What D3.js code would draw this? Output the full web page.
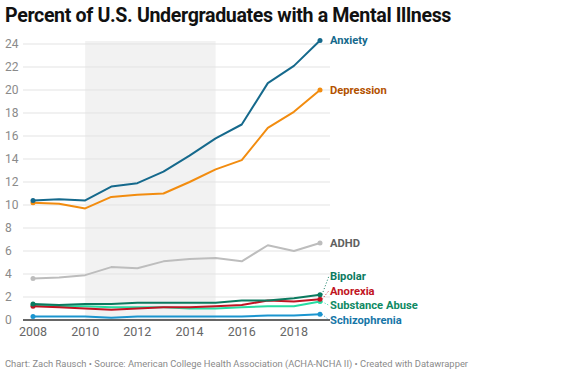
<!DOCTYPE html>
<html>
<head>
<meta charset="utf-8">
<script src="https://cdn.jsdelivr.net/npm/d3@7"></script>
<style>
  body { margin: 0; background: #fff; font-family: Roboto, sans-serif; }
  svg text { font-family: Roboto, sans-serif; }
</style>
</head>
<body>
<svg id="chart"></svg>
<script>
// data
const years = [2008, 2009, 2010, 2011, 2012, 2013, 2014, 2015, 2016, 2017, 2018, 2019];
const anxiety = [10.4, 10.5, 10.4, 11.6, 11.9, 12.9, 14.3, 15.8, 17.0, 20.6, 22.1, 24.3];
const depression = [10.2, 10.1, 9.7, 10.7, 10.9, 11.0, 12.0, 13.1, 13.9, 16.7, 18.1, 20.0];
const adhd = [3.6, 3.7, 3.9, 4.6, 4.5, 5.1, 5.3, 5.4, 5.1, 6.5, 6.0, 6.7];
const bipolar = [1.4, 1.3, 1.4, 1.4, 1.5, 1.5, 1.5, 1.5, 1.7, 1.7, 1.9, 2.2];
const anorexia = [1.2, 1.1, 1.0, 0.9, 1.0, 1.1, 1.1, 1.2, 1.3, 1.7, 1.6, 1.8];
const substanceAbuse = [1.3, 1.2, 1.2, 1.1, 1.1, 1.1, 1.0, 1.0, 1.1, 1.2, 1.2, 1.6];
const schizophrenia = [0.3, 0.3, 0.3, 0.2, 0.3, 0.3, 0.3, 0.3, 0.3, 0.4, 0.4, 0.5];
const yTicks = [0, 2, 4, 6, 8, 10, 12, 14, 16, 18, 20, 22, 24];
const xTicks = [2008, 2010, 2012, 2014, 2016, 2018];
const shadedRange = [2010, 2015];

const series = [
    {name: 'Anxiety', values: anxiety, line: '#15698c', label: '#15698c'},
    {name: 'Depression', values: depression, line: '#f28c0f', label: '#b35200'},
    {name: 'ADHD', values: adhd, line: '#bdbdbd', label: '#606060'},
    {name: 'Bipolar', values: bipolar, line: '#0b7a5f', label: '#0b7a5f', group: true},
    {name: 'Anorexia', values: anorexia, line: '#c11423', label: '#c11423', group: true},
    {name: 'Substance Abuse', values: substanceAbuse, line: '#27dca2', label: '#0f8a63', group: true},
    {name: 'Schizophrenia', values: schizophrenia, line: '#1b95cf', label: '#1676a7', group: true}
];

const width = 567, height = 373;
const svg = d3.select('#chart').attr('width', width).attr('height', height);

const x = d3.scaleLinear().domain([2008, 2019]).range([33, 320]);
const y = d3.scaleLinear().domain([0, 24]).range([320, 44]);
const gridLeft = 23, gridRight = 330;

// title
svg.append('text')
    .attr('x', 5).attr('y', 22)
    .attr('font-size', 19.6).attr('font-weight', 700)
    .attr('fill', '#111')
    .attr('letter-spacing', -0.35)
    .text('Percent of U.S. Undergraduates with a Mental Illness');

// shaded period
svg.append('rect')
    .attr('x', x(shadedRange[0]))
    .attr('y', 41)
    .attr('width', x(shadedRange[1]) - x(shadedRange[0]))
    .attr('height', y(0) - 41)
    .attr('fill', '#f2f2f2');

// gridlines
svg.append('g').selectAll('line')
    .data(yTicks.filter(d => d > 0))
    .join('line')
    .attr('x1', gridLeft).attr('x2', gridRight)
    .attr('y1', d => y(d)).attr('y2', d => y(d))
    .attr('stroke', '#e3e3e3').attr('stroke-width', 1);

// y labels
svg.append('g').selectAll('text')
    .data(yTicks)
    .join('text')
    .attr('x', 5).attr('y', d => y(d))
    .attr('dy', '0.35em')
    .attr('font-size', 12)
    .attr('fill', '#8a8a8a')
    .text(d => d);

// x labels
svg.append('g').selectAll('text')
    .data(xTicks)
    .join('text')
    .attr('x', d => x(d)).attr('y', 336)
    .attr('text-anchor', 'middle')
    .attr('font-size', 12.5)
    .attr('fill', '#666')
    .text(d => d);

// baseline
svg.append('line')
    .attr('x1', gridLeft).attr('x2', gridRight)
    .attr('y1', y(0)).attr('y2', y(0))
    .attr('stroke', '#333').attr('stroke-width', 1.5);

// lines
const line = d3.line()
    .x((d, i) => x(years[i]))
    .y(d => y(d));

const lastIdx = years.length - 1;

// bottom draw order: lighter first
const drawOrder = ['ADHD', 'Schizophrenia', 'Substance Abuse', 'Anorexia', 'Bipolar', 'Depression', 'Anxiety'];
drawOrder.forEach(name => {
    const s = series.find(d => d.name === name);
    svg.append('path')
        .datum(s.values)
        .attr('d', line)
        .attr('fill', 'none')
        .attr('stroke', s.line)
        .attr('stroke-width', 2)
        .attr('stroke-linejoin', 'round');
    [0, lastIdx].forEach(i => {
        svg.append('circle')
            .attr('cx', x(years[i])).attr('cy', y(s.values[i]))
            .attr('r', 2.5)
            .attr('fill', s.line);
    });
});

// label positions, spread the crowded group
series.forEach(s => { s.ly = y(s.values[lastIdx]); });
const grp = series.filter(s => s.group).sort((a, b) => a.ly - b.ly);
const gap = 14.7;
for (let k = 1; k < grp.length; k++) {
    grp[k].ly = grp[k - 1].ly + gap;
}
const shift = Math.max(0, grp[grp.length - 1].ly - 320);
grp.forEach(s => { s.ly -= shift; });

// connector lines for moved labels
series.filter(s => s.group).forEach(s => {
    svg.append('line')
        .attr('x1', x(2019) + 2).attr('y1', y(s.values[lastIdx]))
        .attr('x2', gridRight - 1).attr('y2', s.ly)
        .attr('stroke', s.line)
        .attr('stroke-width', 1)
        .attr('stroke-dasharray', '1,2');
});

// labels
svg.append('g').selectAll('text')
    .data(series)
    .join('text')
    .attr('x', gridRight)
    .attr('y', d => d.ly)
    .attr('dy', '0.35em')
    .attr('font-size', 11.2)
    .attr('font-weight', 700)
    .attr('fill', d => d.label)
    .text(d => d.name);

// footer
svg.append('text')
    .attr('x', 5).attr('y', 367)
    .attr('font-size', 9.4)
    .attr('fill', '#8a8a8a')
    .text('Chart: Zach Rausch \u2022 Source: American College Health Association (ACHA-NCHA II) \u2022 Created with Datawrapper');
</script>
</body>
</html>
